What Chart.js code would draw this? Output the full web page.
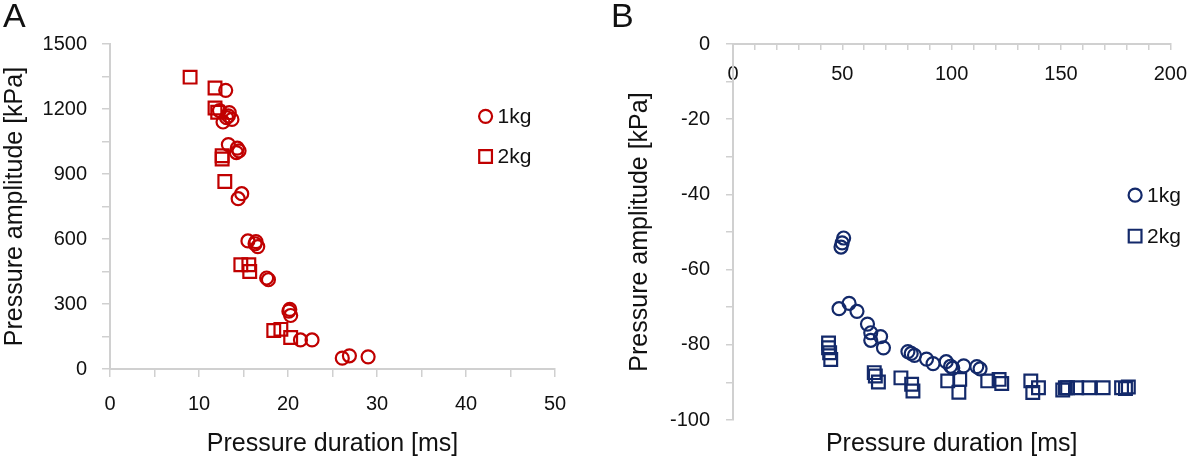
<!DOCTYPE html>
<html>
<head>
<meta charset="utf-8">
<title>Pressure amplitude vs pressure duration</title>
<script src="https://cdn.jsdelivr.net/npm/chart.js@4.4.1/dist/chart.umd.min.js"></script>
<style>
    html, body { margin: 0; padding: 0; background: #fff; overflow: hidden; }
    body { width: 1200px; height: 463px; position: relative; font-family: "Liberation Sans", Arial, sans-serif; }
    .panel { position: absolute; top: 0; width: 600px; height: 463px; }
    .tag { position: absolute; font-size: 34px; line-height: 34px; color: #111; }
</style>
</head>
<body>
<div class="panel" style="left:0"><canvas id="chartA" width="600" height="463"></canvas></div>
<div class="panel" style="left:600px"><canvas id="chartB" width="600" height="463"></canvas></div>
<div class="tag" style="left:3px;top:-2px">A</div>
<div class="tag" style="left:611px;top:-2px">B</div>
<script>
const RED = '#c00000';
const NAVY = '#13296a';
const AXIS_GREY = '#d0d0d0';
const TEXT = '#111';
const FONT = '"Liberation Sans", Arial, sans-serif';

// Panel A - positive pressure
const durA1kg = [13.0, 12.3, 13.4, 12.7, 13.1, 13.7, 13.3, 13.3, 14.3, 14.5, 14.2, 14.8, 14.4, 15.5, 16.4, 16.6, 16.3, 17.6, 17.8, 20.1, 20.3, 20.2, 21.4, 22.7, 26.1, 26.9, 29.0];
const ampA1kg = [1286, 1193, 1183, 1140, 1160, 1152, 1168, 1036, 1019, 1007, 999, 809, 786, 591, 588, 565, 578, 420, 412, 267, 247, 275, 134, 134, 50, 61, 56];
const durA2kg = [9.0, 11.8, 11.8, 12.1, 12.6, 12.6, 12.9, 14.7, 15.6, 15.7, 18.4, 19.2, 20.3];
const ampA2kg = [1347, 1297, 1205, 1185, 984, 969, 865, 481, 481, 450, 178, 183, 145];

// Panel B - negative pressure
const durB1kg = [50.6, 49.9, 49.4, 48.5, 53.1, 56.7, 61.5, 63.0, 63.0, 67.5, 68.8, 80.0, 81.5, 83.0, 88.5, 91.5, 97.5, 99.5, 100.5, 105.5, 111.5, 113.0];
const ampB1kg = [-51.6, -52.9, -54.0, -70.4, -69.0, -71.1, -74.5, -76.8, -78.8, -77.8, -80.8, -81.8, -82.3, -82.8, -83.8, -85.0, -84.5, -85.7, -86.2, -85.6, -85.8, -86.4];
const durB2kg = [43.7, 43.7, 44.2, 44.7, 64.6, 65.1, 66.5, 76.8, 81.7, 82.3, 98.2, 103.7, 103.3, 116.5, 121.7, 122.9, 136.2, 137.1, 139.7, 150.8, 152.0, 153.0, 157.2, 162.8, 169.3, 177.7, 179.5, 180.8];
const ampB2kg = [-79.5, -80.8, -82.1, -83.9, -87.4, -88.3, -89.9, -88.8, -90.5, -92.3, -89.6, -89.2, -92.6, -89.6, -89.2, -90.3, -89.6, -92.7, -91.4, -92.0, -91.4, -91.4, -91.4, -91.4, -91.4, -91.4, -91.6, -91.2];

const seriesNames = ['1kg', '2kg'];

// labelled ticks (minor ticks in between stay unlabelled)
const xLabelsA = [0, 10, 20, 30, 40, 50];
const yLabelsA = [0, 300, 600, 900, 1200, 1500];
const xLabelsB = [0, 50, 100, 150, 200];
const yLabelsB = [0, -20, -40, -60, -80, -100];

const xTitle = 'Pressure duration [ms]';
const yTitle = 'Pressure amplitude [kPa]';

function series(label, xs, ys, color, style) {
    const r = style === 'rect' ? 9 : 6.5;
    return {
        label: label,
        data: xs.map((x, i) => ({ x: x, y: ys[i] })),
        pointStyle: style,
        pointRadius: r,
        pointHoverRadius: r,
        pointBorderWidth: 2.2,
        borderWidth: 2.2,
        borderColor: color,
        backgroundColor: 'rgba(0,0,0,0)'
    };
}

function labelFrom(list) {
    return v => list.includes(v) ? String(v) : '';
}

function tickAxis(min, max, step, labels, tickLen, pad) {
    return {
        type: 'linear',
        min: min,
        max: max,
        border: { color: AXIS_GREY, width: 2 },
        grid: { drawOnChartArea: false, color: AXIS_GREY, lineWidth: 1.5, tickLength: tickLen },
        ticks: {
            stepSize: step,
            autoSkip: false,
            maxRotation: 0,
            padding: pad,
            color: TEXT,
            font: { family: FONT, size: 20 },
            callback: labelFrom(labels)
        }
    };
}

function axisTitle(text, top, bottom) {
    return { display: true, text: text, color: TEXT, font: { family: FONT, size: 25 }, padding: { top: top, bottom: bottom } };
}

// legend drawn inside the plot area, anchored on data values
const markerLegend = {
    id: 'markerLegend',
    afterDatasetsDraw(chart, args, opts) {
        const ctx = chart.ctx;
        const px = chart.scales.x.getPixelForValue(opts.x);
        chart.data.datasets.forEach((ds, i) => {
            const py = chart.scales.y.getPixelForValue(opts.y[i]);
            ctx.save();
            ctx.strokeStyle = ds.borderColor;
            ctx.lineWidth = ds.borderWidth;
            ctx.beginPath();
            if (ds.pointStyle === 'rect') {
                const s = ds.pointRadius * Math.SQRT1_2;
                ctx.rect(px - s, py - s, 2 * s, 2 * s);
            } else {
                ctx.arc(px, py, ds.pointRadius, 0, Math.PI * 2);
            }
            ctx.stroke();
            ctx.fillStyle = TEXT;
            ctx.font = '21px ' + FONT;
            ctx.textAlign = 'left';
            ctx.textBaseline = 'middle';
            ctx.fillText(ds.label, px + 12, py + 1);
            ctx.restore();
        });
    }
};

// Chart A
const xA = tickAxis(0, 50, 5, xLabelsA, 8, 15);
xA.afterFit = s => { s.height = 94; };
xA.title = axisTitle(xTitle, 0, 4);

const yA = tickAxis(0, 1500, 150, yLabelsA, 8, 15);
yA.afterFit = s => { s.width = 110; };
yA.title = axisTitle(yTitle, 0, 0);

new Chart(document.getElementById('chartA'), {
    type: 'scatter',
    data: {
        datasets: [
            series(seriesNames[0], durA1kg, ampA1kg, RED, 'circle'),
            series(seriesNames[1], durA2kg, ampA2kg, RED, 'rect')
        ]
    },
    options: {
        responsive: false,
        animation: false,
        layout: { padding: { top: 44, right: 45, bottom: 0, left: 0 } },
        plugins: {
            legend: { display: false },
            tooltip: { enabled: false },
            markerLegend: { x: 42.2, y: [1166, 981] }
        },
        scales: { x: xA, y: yA }
    },
    plugins: [markerLegend]
});

// Chart B - x axis sits on y = 0 at the top
const xB = tickAxis(0, 200, 10, xLabelsB, 5, 13);
xB.position = { y: 0 };

const yB = tickAxis(-100, 0, 10, yLabelsB, 7, 16);
yB.afterFit = s => { s.width = 133; };
yB.title = axisTitle(yTitle, 25, 0);

new Chart(document.getElementById('chartB'), {
    type: 'scatter',
    data: {
        datasets: [
            series(seriesNames[0], durB1kg, ampB1kg, NAVY, 'circle'),
            series(seriesNames[1], durB2kg, ampB2kg, NAVY, 'rect')
        ]
    },
    options: {
        responsive: false,
        animation: false,
        layout: { padding: { top: 44, right: 21, bottom: 0, left: 0 } },
        plugins: {
            legend: { display: false },
            tooltip: { enabled: false },
            markerLegend: { x: 183.9, y: [-40.2, -51.1] }
        },
        scales: {
            x: xB,
            // only carries the axis title at the bottom
            x2: {
                type: 'linear',
                position: 'bottom',
                afterFit: s => { s.height = 43; },
                grid: { display: false },
                border: { display: false },
                ticks: { display: false },
                title: axisTitle(xTitle, 0, 4)
            },
            y: yB
        }
    },
    plugins: [markerLegend]
});
</script>
</body>
</html>
